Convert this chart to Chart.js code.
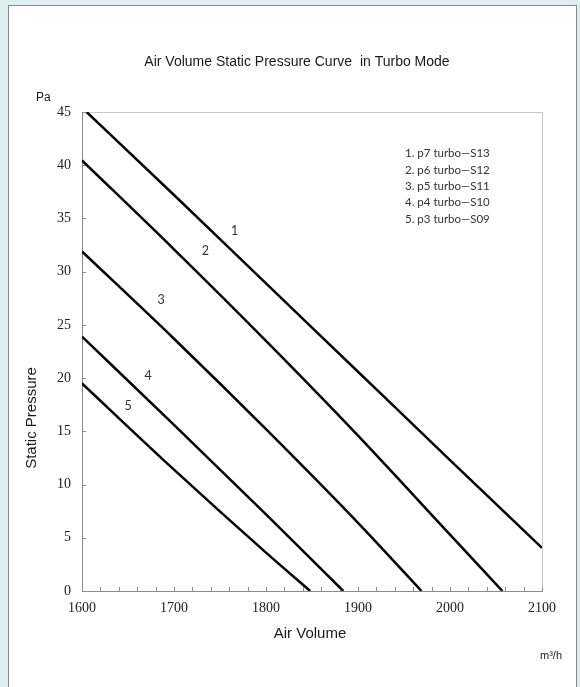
<!DOCTYPE html>
<html>
<head>
<meta charset="utf-8">
<script src="https://cdn.jsdelivr.net/npm/chart.js@4"></script>
<style>
  body { margin: 0; background: #dcefee; }
  #panel { position: absolute; left: 8px; top: 5px; width: 567px; height: 700px; background: #fff; border: 1px solid #8a8a8a; }
  #wrap { position: absolute; left: 0; top: 0; width: 580px; height: 687px; }
</style>
</head>
<body>
<div id="panel"></div>
<div id="wrap"><canvas id="fanChart" width="580" height="687"></canvas></div>
<script>
// curve data (x = m3/h, y = Pa)
const s1x = [1605, 1700, 1800, 1900, 2000, 2100];
const s1y = [45, 37.2, 28.9, 20.6, 12.3, 4.05];
const s2x = [1600, 1700, 1800, 1900, 2000, 2057];
const s2y = [40.45, 32.1, 23.5, 14.6, 5.3, 0];
const s3x = [1600, 1700, 1800, 1900, 1969];
const s3y = [31.9, 23.7, 15.2, 6.4, 0];
const s4x = [1600, 1700, 1800, 1884];
const s4y = [23.9, 15.6, 7.2, 0];
const s5x = [1600, 1700, 1800, 1848];
const s5y = [19.5, 11.4, 3.6, 0];

const seriesNames = ["1. p7 turbo\u2014S13", "2. p6 turbo\u2014S12", "3. p5 turbo\u2014S11", "4. p4 turbo\u2014S10", "5. p3 turbo\u2014S09"];
const curveNumbers = ["1", "2", "3", "4", "5"];
const numberX = [1766, 1734, 1686, 1672, 1650];
const numberY = [33.8, 31.9, 27.3, 20.2, 17.4];

const xMin = 1600, xMax = 2100, xStep = 20, xLabelStep = 100;
const yMin = 0, yMax = 45, yStep = 5;

function toPoints(xs, ys) {
  return xs.map((v, i) => ({ x: v, y: ys[i] }));
}

const allX = [s1x, s2x, s3x, s4x, s5x];
const allY = [s1y, s2y, s3y, s4y, s5y];

// frame, inward ticks and all the text around the plot
const decor = {
  id: "decor",
  beforeDatasetsDraw(chart) {
    const { ctx, chartArea: a, scales } = chart;
    ctx.save();
    ctx.strokeStyle = "#c9c9c9";
    ctx.lineWidth = 1;
    ctx.beginPath();
    ctx.moveTo(a.left, a.top + 0.5);
    ctx.lineTo(a.right + 0.5, a.top + 0.5);
    ctx.lineTo(a.right + 0.5, a.bottom);
    ctx.stroke();

    ctx.strokeStyle = "#8a8a8a";
    ctx.beginPath();
    scales.x.ticks.forEach((t) => {
      const px = Math.round(scales.x.getPixelForValue(t.value)) + 0.5;
      ctx.moveTo(px, a.bottom);
      ctx.lineTo(px, a.bottom - 4);
    });
    scales.y.ticks.forEach((t) => {
      const py = Math.round(scales.y.getPixelForValue(t.value)) + 0.5;
      ctx.moveTo(a.left, py);
      ctx.lineTo(a.left + 4, py);
    });
    ctx.stroke();
    ctx.restore();
  },
  afterDraw(chart) {
    const { ctx, scales } = chart;
    ctx.save();
    ctx.fillStyle = "#1a1a1a";
    ctx.textBaseline = "middle";

    ctx.textAlign = "center";
    ctx.font = "14px 'Liberation Sans', Arial, sans-serif";
    ctx.fillText("Air Volume Static Pressure Curve  in Turbo Mode", 297, 62);

    ctx.font = "15px 'Liberation Sans', Arial, sans-serif";
    ctx.fillText("Air Volume", 310, 634);

    ctx.save();
    ctx.translate(32, 418);
    ctx.rotate(-Math.PI / 2);
    ctx.fillText("Static Pressure", 0, 0);
    ctx.restore();

    ctx.textAlign = "left";
    ctx.font = "12px 'Liberation Sans', Arial, sans-serif";
    ctx.fillText("Pa", 36, 98);
    ctx.font = "11px 'Liberation Sans', Arial, sans-serif";
    ctx.fillText("m\u00B3/h", 540, 656);

    // legend block
    ctx.fillStyle = "#333";
    ctx.font = "11.5px Lato, 'Noto Sans', sans-serif";
    seriesNames.forEach((name, i) => {
      ctx.fillText(name, 405, 153.5 + i * 16.4);
    });

    // curve numbers placed by data position
    ctx.textAlign = "center";
    ctx.font = "12.5px Lato, 'Noto Sans', sans-serif";
    curveNumbers.forEach((n, i) => {
      ctx.fillText(n, scales.x.getPixelForValue(numberX[i]), scales.y.getPixelForValue(numberY[i]));
    });
    ctx.restore();
  },
};

const ctx = document.getElementById("fanChart").getContext("2d");
const fanChart = new Chart(ctx, {
  type: "line",
  data: {
    datasets: allX.map((xs, i) => ({
      label: seriesNames[i],
      data: toPoints(xs, allY[i]),
      borderColor: "#000",
      borderWidth: 2.5,
      pointRadius: 0,
      fill: false,
      cubicInterpolationMode: "monotone",
    })),
  },
  options: {
    responsive: false,
    animation: false,
    devicePixelRatio: 1,
    layout: { padding: { left: 0, top: 112, right: 38, bottom: 0 } },
    plugins: { legend: { display: false }, tooltip: { enabled: false } },
    scales: {
      x: {
        type: "linear",
        min: xMin,
        max: xMax,
        grid: { display: false },
        border: { display: true, color: "#8a8a8a", width: 1 },
        ticks: {
          stepSize: xStep,
          autoSkip: false,
          maxRotation: 0,
          padding: 1,
          color: "#222",
          font: { family: "'Liberation Serif', 'DejaVu Serif', serif", size: 14 },
          callback: (v) => (v % xLabelStep === 0 ? String(v) : ""),
        },
        afterFit: (scale) => { scale.height = 96; },
      },
      y: {
        type: "linear",
        min: yMin,
        max: yMax,
        grid: { display: false },
        border: { display: true, color: "#8a8a8a", width: 1 },
        ticks: {
          stepSize: yStep,
          padding: 3,
          color: "#222",
          font: { family: "'Liberation Serif', 'DejaVu Serif', serif", size: 14 },
        },
        afterFit: (scale) => { scale.width = 82; },
      },
    },
  },
  plugins: [decor],
});
</script>
</body>
</html>
